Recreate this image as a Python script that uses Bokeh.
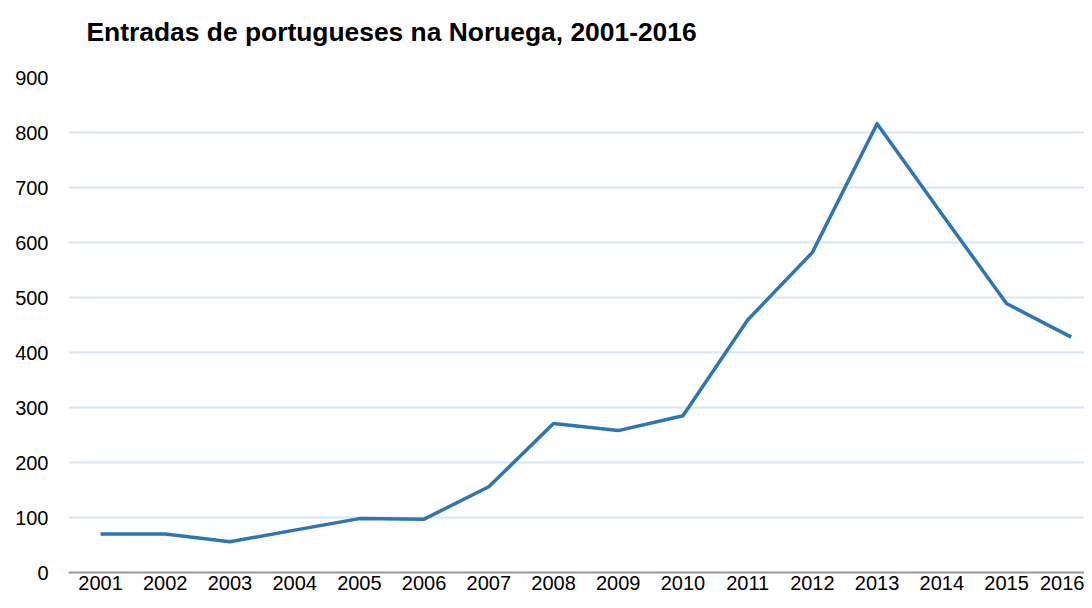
from bokeh.plotting import figure
from bokeh.models import FixedTicker, Range1d, Title
from bokeh.embed import file_html
from bokeh.resources import INLINE

years = [2001, 2002, 2003, 2004, 2005, 2006, 2007, 2008,
         2009, 2010, 2011, 2012, 2013, 2014, 2015, 2016]
entradas = [70, 70, 56, 77, 98, 97, 156, 271,
            258, 285, 459, 582, 816, 652, 489, 428]
y_ticks = [0, 100, 200, 300, 400, 500, 600, 700, 800, 900]
title_text = "Entradas de portugueses na Noruega, 2001-2016"

p = figure(width=1084, height=592, output_backend="svg", toolbar_location=None,
           x_range=Range1d(2000.505, 2016.205), y_range=Range1d(0, 900),
           min_border_left=68, min_border_right=0, min_border_top=8,
           min_border_bottom=0)

# spacer between title and plot area
p.add_layout(Title(text=" ", text_font_size="12px", standoff=0), "above")

p.title.text = title_text
p.title.text_font = "Liberation Sans"
p.title.text_font_style = "bold"
p.title.text_font_size = "26.4px"
p.title.text_color = "#000000"
p.title.align = "left"
p.title.offset = 18
p.title.standoff = 29

p.outline_line_color = None
p.background_fill_color = "white"
p.border_fill_color = "white"

p.xgrid.grid_line_color = None
p.ygrid.ticker = FixedTicker(ticks=y_ticks)
p.ygrid.grid_line_color = "#dae6f3"
p.ygrid.grid_line_width = 2

p.yaxis.ticker = FixedTicker(ticks=y_ticks)
p.yaxis.axis_line_color = None
p.yaxis.major_tick_line_color = None
p.yaxis.minor_tick_line_color = None
p.yaxis.major_tick_out = 0
p.yaxis.major_tick_in = 0
p.yaxis.major_label_standoff = 20
p.yaxis.major_label_text_font = "Liberation Sans"
p.yaxis.major_label_text_font_size = "20px"
p.yaxis.major_label_text_color = "#000000"

p.xaxis.ticker = FixedTicker(ticks=years)
p.xaxis.axis_line_color = "#9a9a9a"
p.xaxis.axis_line_width = 2
p.xaxis.major_tick_line_color = None
p.xaxis.minor_tick_line_color = None
p.xaxis.major_tick_out = 0
p.xaxis.major_tick_in = 0
p.xaxis.major_label_standoff = 3
p.xaxis.major_label_text_font = "Liberation Sans"
p.xaxis.major_label_text_font_size = "20px"
p.xaxis.major_label_text_color = "#000000"

p.line(years, entradas, line_color="#2e75b6", line_width=3.5, line_join="round")

open("out.html", "w").write(file_html(p, INLINE))
